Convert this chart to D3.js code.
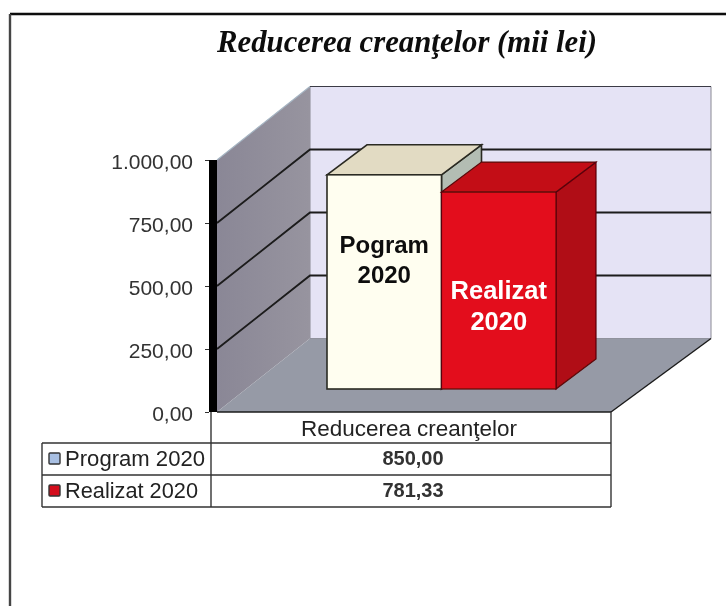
<!DOCTYPE html>
<html>
<head>
<meta charset="utf-8">
<script src="https://cdnjs.cloudflare.com/ajax/libs/d3/7.8.5/d3.min.js"></script>
<style>
html,body{margin:0;padding:0;background:#fff}
svg{display:block}
text{font-family:"Liberation Sans",Arial,sans-serif}
</style>
</head>
<body>
<div id="chart"></div>
<script>
const titleText = "Reducerea creanţelor (mii lei)";
const categoryName = "Reducerea creanţelor";
const seriesNames = ["Program 2020", "Realizat 2020"];
const seriesValues = [850.00, 781.33];
const valueLabels = ["850,00", "781,33"];
const barLabels = [["Pogram", "2020"], ["Realizat", "2020"]];
const tickValues = [0, 250, 500, 750, 1000];
const tickLabels = ["0,00", "250,00", "500,00", "750,00", "1.000,00"];

const W = 726, H = 606;
const svg = d3.select("#chart").append("svg").attr("width", W).attr("height", H);
const defs = svg.append("defs");
defs.append("filter").attr("id", "soft").attr("x", "-5%").attr("y", "-5%").attr("width", "110%").attr("height", "110%")
  .append("feGaussianBlur").attr("stdDeviation", 0.5);
const sideGrad = defs.append("linearGradient").attr("id", "sideGrad").attr("x1", 0).attr("x2", 1).attr("y1", 0).attr("y2", 0);
sideGrad.append("stop").attr("offset", "0%").attr("stop-color", "#8a8796");
sideGrad.append("stop").attr("offset", "100%").attr("stop-color", "#97949f");
const root = svg.append("g").attr("filter", "url(#soft)");

// layout
const floorL = 217, floorR = 611, backR = 711;
const depthX = 93, depthY = -73.5;
const y = d3.scaleLinear().domain([0, 1000]).range([412, 160]);
const x = d3.scaleBand().domain(seriesNames).range([327, 556]).padding(0);
const barBase = 389, barDx = 40, barDy = -30;
const barH = v => y(0) - y(v);
const poly = pts => pts.map(p => p.join(",")).join(" ");
const line = "#1a1a1a";

// frame (top and left only)
root.append("line").attr("x1", 10).attr("x2", W).attr("y1", 14).attr("y2", 14).attr("stroke", "#111").attr("stroke-width", 2.4);
root.append("line").attr("x1", 10).attr("x2", 10).attr("y1", 14).attr("y2", H).attr("stroke", "#444").attr("stroke-width", 2.4);

// title
root.append("text").attr("x", 407).attr("y", 52).attr("text-anchor", "middle")
  .attr("textLength", 380).attr("lengthAdjust", "spacingAndGlyphs")
  .style("font-family", '"Liberation Serif",serif').style("font-style", "italic").style("font-weight", "bold")
  .style("font-size", "32px").attr("fill", "#111").text(titleText);

// walls
const bL = floorL + depthX;
root.append("polygon").attr("points", poly([[bL, y(1000) + depthY], [backR, y(1000) + depthY], [backR, y(0) + depthY], [bL, y(0) + depthY]]))
  .attr("fill", "#e5e3f5").attr("stroke", "#8a8a94").attr("stroke-width", 1);
root.append("polygon").attr("points", poly([[floorL, y(1000)], [bL, y(1000) + depthY], [bL, y(0) + depthY], [floorL, y(0)]]))
  .attr("fill", "url(#sideGrad)");
root.append("polygon").attr("points", poly([[floorL, y(0)], [bL, y(0) + depthY], [backR, y(0) + depthY], [floorR, y(0)]]))
  .attr("fill", "#969aa6");
root.append("line").attr("x1", floorL).attr("x2", floorR).attr("y1", y(0)).attr("y2", y(0)).attr("stroke", line).attr("stroke-width", 1.6);
root.append("line").attr("x1", floorR).attr("x2", backR).attr("y1", y(0)).attr("y2", y(0) + depthY).attr("stroke", line).attr("stroke-width", 1.4);

// gridlines
const gridVals = tickValues.slice(1);
root.append("g").selectAll("polyline").data(gridVals).join("polyline")
  .attr("fill", "none")
  .attr("stroke", d => d === 1000 ? "none" : line)
  .attr("stroke-width", 1.9)
  .attr("points", d => poly([[floorL, y(d)], [bL, y(d) + depthY], [backR, y(d) + depthY]]));
root.append("line").attr("x1", floorL).attr("x2", bL).attr("y1", y(1000)).attr("y2", y(1000) + depthY).attr("stroke", "#a5b4c2").attr("stroke-width", 1.2);
root.append("line").attr("x1", bL).attr("x2", backR).attr("y1", y(1000) + depthY).attr("y2", y(1000) + depthY).attr("stroke", "#3a3a44").attr("stroke-width", 1.2);

// bars
const fills = [
  {front: "#fffef0", top: "#e2dbc3", side: "#b3bdb3"},
  {front: "#e3101e", top: "#c30c18", side: "#b00812"}
];
const bars = root.append("g").selectAll("g").data(seriesNames.map((s, i) => ({s, v: seriesValues[i], i}))).join("g");
bars.each(function (d) {
  const g = d3.select(this), x0 = x(d.s), x1 = x0 + x.bandwidth(), top = barBase - barH(d.v), c = fills[d.i];
  const stroke = d.i === 0 ? "#2a2a22" : "#5a0609";
  const sw = d.i === 0 ? 1.6 : 1.2;
  g.append("polygon").attr("points", poly([[x1, top], [x1 + barDx, top + barDy], [x1 + barDx, barBase + barDy], [x1, barBase]]))
    .attr("fill", c.side).attr("stroke", stroke).attr("stroke-width", sw);
  g.append("polygon").attr("points", poly([[x0, top], [x0 + barDx, top + barDy], [x1 + barDx, top + barDy], [x1, top]]))
    .attr("fill", c.top).attr("stroke", stroke).attr("stroke-width", sw);
  g.append("rect").attr("x", x0).attr("y", top).attr("width", x.bandwidth()).attr("height", barH(d.v))
    .attr("fill", c.front).attr("stroke", stroke).attr("stroke-width", sw);
});

// annotation text on bars
const labelBase = [[253, 283], [299, 330]];
const labelFill = ["#111", "#fff"];
const labelSize = ["24px", "25.5px"];
bars.each(function (d) {
  const cx = x(d.s) + x.bandwidth() / 2;
  d3.select(this).selectAll("text").data(barLabels[d.i]).join("text")
    .attr("x", cx).attr("y", (t, j) => labelBase[d.i][j]).attr("text-anchor", "middle")
    .style("font-weight", "bold").style("font-size", labelSize[d.i]).attr("fill", labelFill[d.i]).text(t => t);
});

// value axis
root.append("rect").attr("x", 209).attr("y", y(1000)).attr("width", 8).attr("height", y(0) - y(1000)).attr("fill", "#050505");
const axis = d3.axisLeft(y).tickValues(tickValues).tickSize(4).tickPadding(12)
  .tickFormat(d => tickLabels[tickValues.indexOf(d)]);
const axG = root.append("g").attr("transform", "translate(209,0)").call(axis);
axG.select(".domain").remove();
axG.selectAll("line").attr("stroke", "#333");
axG.selectAll("text").attr("dy", "0.42em").style("font-size", "21px").style("font-family", '"Liberation Sans",sans-serif').attr("fill", "#333");

// data table
const tL = 42, tM = 211, tR = 611, rows = [443, 475, 507];
const tStroke = "#333";
const hLines = [[tL, tR, rows[0]], [tL, tR, rows[1]], [tL, tR, rows[2]]];
root.append("g").selectAll("line").data(hLines).join("line")
  .attr("x1", d => d[0]).attr("x2", d => d[1]).attr("y1", d => d[2]).attr("y2", d => d[2])
  .attr("stroke", tStroke).attr("stroke-width", 1.4);
const vLines = [[tL, rows[0], rows[2]], [tM, y(0), rows[2]], [tR, y(0), rows[2]]];
root.append("g").selectAll("line").data(vLines).join("line")
  .attr("x1", d => d[0]).attr("x2", d => d[0]).attr("y1", d => d[1]).attr("y2", d => d[2])
  .attr("stroke", tStroke).attr("stroke-width", 1.4);
root.append("text").attr("x", 409).attr("y", 436).attr("text-anchor", "middle")
  .attr("textLength", 216).attr("lengthAdjust", "spacingAndGlyphs")
  .style("font-size", "21.5px").attr("fill", "#222").text(categoryName);
const swatch = ["#a8bfe2", "#d4101e"];
const tbl = root.append("g").selectAll("g").data(seriesNames).join("g");
tbl.append("rect").attr("x", 49).attr("y", (d, i) => rows[i] + 10).attr("width", 11).attr("height", 11)
  .attr("fill", (d, i) => swatch[i]).attr("stroke", "#333").attr("stroke-width", 1.4).attr("rx", 1);
const nameWidths = [140, 133];
tbl.append("text").attr("x", 65).attr("y", (d, i) => rows[i] + 23)
  .attr("textLength", (d, i) => nameWidths[i]).attr("lengthAdjust", "spacingAndGlyphs")
  .style("font-size", "21.5px").attr("fill", "#222").text(d => d);
tbl.append("text").attr("x", 413).attr("y", (d, i) => rows[i] + 22).attr("text-anchor", "middle")
  .style("font-size", "20px").style("font-weight", "bold").attr("fill", "#333").text((d, i) => valueLabels[i]);
</script>
</body>
</html>
